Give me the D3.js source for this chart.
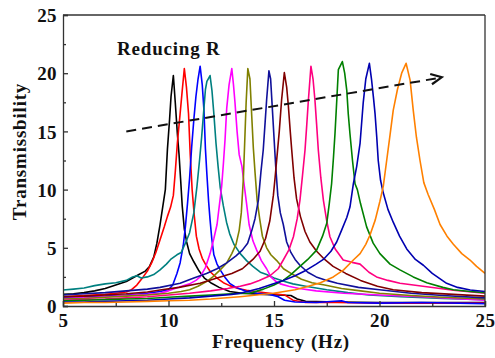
<!DOCTYPE html>
<html>
<head>
<meta charset="utf-8">
<script src="https://cdn.jsdelivr.net/npm/d3@7/dist/d3.min.js"></script>
<style>
  html, body { margin: 0; padding: 0; background: #fff; }
  svg { display: block; }
  .tick text { font-family: "Liberation Serif", "Times New Roman", serif; font-weight: bold; font-size: 19px; letter-spacing: 0.4px; fill: #111; }
</style>
</head>
<body>
<svg id="chart" width="495" height="358"></svg>
<script>
// Axis ticks
const xTicks = [5, 10, 15, 20, 25];
const yTicks = [0, 5, 10, 15, 20, 25];
const xMinor = [7.5, 12.5, 17.5, 22.5];
const yMinor = [2.5, 7.5, 12.5, 17.5, 22.5];

// Measured transmissibility curves, [frequency (Hz), transmissibility]
const curveBlack = [[5,1.0],[5.5,1.05],[6,1.15],[6.5,1.3],[7,1.5],[7.5,1.8],[8,2.1],[8.3,2.4],[8.6,2.7],[8.9,3.0],[9.1,3.4],[9.3,4.2],[9.45,5.4],[9.6,7.0],[9.75,8.8],[9.85,10.0],[9.95,13.5],[10.05,16.0],[10.12,18.0],[10.23,19.8],[10.32,17.5],[10.42,14.8],[10.5,13.0],[10.57,11.0],[10.65,8.6],[10.75,6.6],[10.86,5.5],[11.0,4.5],[11.2,3.8],[11.45,3.0],[11.7,2.4],[12.0,2.0],[12.4,1.6],[12.9,1.25],[13.5,1.1],[14.5,1.0],[15.2,0.95],[15.8,0.9],[16.1,0.6],[16.5,0.4],[18,0.35],[20,0.3],[22,0.3],[25,0.3]];
const curveRed = [[5,0.8],[6,0.9],[7,1.0],[7.5,1.1],[8,1.2],[8.25,1.4],[8.5,1.8],[8.8,2.5],[9.0,3.0],[9.2,3.7],[9.4,4.6],[9.6,5.7],[9.8,6.8],[9.95,7.7],[10.1,8.5],[10.23,9.5],[10.32,11.5],[10.42,14.0],[10.55,16.5],[10.65,18.5],[10.75,20.4],[10.85,18.8],[10.95,16.5],[11.03,13.0],[11.12,10.0],[11.22,7.8],[11.32,6.0],[11.45,4.9],[11.6,4.1],[11.75,3.6],[12.0,2.9],[12.3,2.4],[12.6,2.0],[12.9,1.75],[13.3,1.5],[13.7,1.35],[14.3,1.2],[15,1.05],[15.5,0.95],[15.9,0.5],[16.5,0.3],[18,0.3],[20,0.25],[25,0.25]];
const curveBlue = [[5,0.75],[6,0.8],[7,0.85],[8,0.95],[9,1.1],[9.6,1.25],[10.0,1.4],[10.2,1.8],[10.4,2.8],[10.55,3.7],[10.7,5.2],[10.8,6.8],[10.9,8.8],[11.0,11.0],[11.1,13.7],[11.2,16.0],[11.3,18.0],[11.4,19.5],[11.5,20.6],[11.6,19.0],[11.68,16.8],[11.75,13.5],[11.82,11.3],[11.9,9.0],[11.97,7.4],[12.05,5.8],[12.15,4.4],[12.3,3.6],[12.45,3.1],[12.7,2.4],[12.9,1.95],[13.2,1.6],[13.7,1.25],[14.2,1.1],[14.8,1.0],[15.2,0.8],[15.5,0.5],[16,0.35],[17,0.3],[18.2,0.45],[18.5,0.3],[20,0.25],[22,0.3],[25,0.2]];
const curveTeal = [[5,1.37],[5.5,1.45],[6,1.55],[6.5,1.75],[7,1.9],[7.5,2.0],[8,2.2],[8.3,2.5],[8.5,2.6],[8.7,2.4],[9.0,2.5],[9.3,2.7],[9.6,3.1],[9.9,3.6],[10.1,4.0],[10.4,4.4],[10.6,4.6],[10.85,5.6],[11.0,6.3],[11.2,8.0],[11.35,10.3],[11.47,12.5],[11.57,14.5],[11.68,17.0],[11.75,18.6],[11.82,19.3],[11.97,19.8],[12.06,18.5],[12.15,16.5],[12.25,14.0],[12.35,12.0],[12.45,10.2],[12.6,8.6],[12.75,7.2],[12.9,6.2],[13.1,5.3],[13.4,4.5],[13.7,3.9],[14.0,3.4],[14.35,2.9],[14.65,2.7],[15.0,2.4],[15.5,2.1],[15.9,1.9],[16.5,1.7],[17.5,1.4],[18.5,1.15],[19.5,0.95],[21,0.8],[23,0.65],[25,0.55]];
const curveMagenta = [[5,0.65],[6,0.7],[7,0.8],[8,0.9],[9,1.0],[9.6,1.1],[10.0,1.3],[10.55,1.65],[11.0,1.9],[11.3,2.2],[11.5,2.5],[11.75,3.3],[11.97,4.5],[12.15,5.8],[12.3,7.0],[12.42,8.8],[12.52,10.3],[12.6,12.2],[12.68,14.3],[12.76,17.0],[12.87,19.0],[13.0,20.4],[13.08,19.0],[13.15,17.5],[13.25,15.0],[13.35,13.0],[13.48,12.0],[13.58,10.5],[13.7,8.8],[13.82,7.0],[14.0,5.6],[14.18,4.8],[14.4,3.9],[14.65,3.2],[14.85,2.5],[15.1,2.1],[15.3,1.9],[15.7,1.7],[16.2,1.5],[17,1.3],[18.3,1.1],[20,0.95],[22,0.8],[25,0.5]];
const curveOlive = [[5,0.6],[6,0.65],[7,0.75],[8,0.85],[9,0.95],[10,1.1],[10.6,1.25],[11.0,1.4],[11.4,1.7],[11.8,2.1],[12.1,2.5],[12.45,3.1],[12.76,3.7],[13.0,4.5],[13.2,5.3],[13.35,6.5],[13.45,8.0],[13.55,11.0],[13.62,14.5],[13.68,17.5],[13.76,20.4],[13.86,19.5],[13.94,16.5],[14.02,13.6],[14.1,11.5],[14.2,9.1],[14.32,7.5],[14.45,6.0],[14.65,5.0],[14.85,4.4],[15.13,3.9],[15.45,3.2],[15.9,2.7],[16.3,2.3],[16.8,2.0],[17.4,1.8],[18.2,1.5],[19.1,1.3],[20,1.1],[21.5,0.9],[23,0.75],[25,0.6]];
const curveNavy = [[5,0.95],[6,1.05],[7,1.15],[8,1.3],[9,1.45],[9.6,1.6],[10.55,1.95],[11.2,2.4],[11.8,2.8],[12.3,3.2],[12.76,3.7],[13.2,4.3],[13.5,4.8],[13.75,5.4],[13.95,6.5],[14.1,7.5],[14.26,9.1],[14.38,11.5],[14.49,13.4],[14.58,15.8],[14.65,17.7],[14.76,20.2],[14.84,19.5],[14.92,17.0],[15.0,14.5],[15.08,12.0],[15.18,9.5],[15.3,8.0],[15.44,7.0],[15.6,5.5],[15.8,4.6],[16.0,4.0],[16.23,3.5],[16.6,2.9],[17.0,2.5],[17.5,2.2],[18.0,1.95],[19.0,1.6],[20,1.4],[21.5,1.1],[23,0.9],[25,0.7]];
const curveMaroon = [[5,0.8],[6,0.85],[7,0.95],[8,1.05],[9,1.2],[9.6,1.37],[10.5,1.6],[11.5,1.95],[12.3,2.4],[13.0,2.8],[13.5,3.2],[14.0,4.0],[14.34,4.7],[14.6,5.8],[14.8,7.3],[14.97,9.5],[15.05,11.0],[15.15,13.0],[15.25,15.0],[15.36,17.7],[15.49,20.05],[15.6,18.8],[15.68,17.2],[15.77,15.0],[15.84,13.4],[15.95,11.0],[16.07,9.2],[16.25,7.7],[16.47,6.4],[16.7,5.5],[17.02,4.7],[17.4,4.0],[17.8,3.4],[18.4,2.8],[19.1,2.2],[19.9,1.7],[20.65,1.4],[22,1.15],[23.5,1.0],[25,0.85]];
const curvePink = [[5,0.5],[6,0.55],[7,0.6],[8,0.7],[9,0.8],[10,0.95],[11,1.1],[12,1.3],[12.8,1.5],[13.4,1.7],[13.86,1.9],[14.3,2.2],[14.81,2.6],[15.2,3.2],[15.44,3.95],[15.7,4.8],[15.92,5.95],[16.1,7.5],[16.23,9.1],[16.35,11.2],[16.47,13.4],[16.55,15.5],[16.63,17.7],[16.75,20.6],[16.85,19.5],[16.94,17.7],[17.02,15.6],[17.1,13.4],[17.22,11.0],[17.34,9.1],[17.5,7.3],[17.65,5.95],[17.9,4.9],[18.28,3.95],[18.7,3.75],[19.08,3.6],[19.5,2.9],[19.86,2.5],[20.4,2.2],[20.97,1.95],[22.24,1.66],[23.5,1.35],[25,1.1]];
const curveGreen = [[5,0.45],[6,0.5],[7,0.55],[8,0.6],[9,0.65],[10,0.75],[11,0.85],[12,0.95],[13,1.05],[13.86,1.1],[14.5,1.45],[15.0,1.8],[15.44,2.2],[15.8,2.7],[16.23,3.4],[16.6,4.0],[17.02,4.8],[17.3,6.0],[17.5,7.1],[17.62,8.8],[17.73,10.5],[17.82,12.8],[17.89,14.8],[17.97,17.5],[18.05,20.3],[18.24,21.0],[18.35,20.0],[18.45,18.5],[18.52,16.5],[18.6,14.8],[18.72,12.5],[18.84,10.5],[18.95,10.0],[19.1,8.8],[19.39,6.8],[19.7,5.4],[20.02,4.5],[20.5,3.6],[20.97,3.1],[21.6,2.5],[22.24,2.0],[23.0,1.6],[23.5,1.4],[24.3,1.25],[25,1.15]];
const curveBlue2 = [[5,0.35],[6,0.35],[7,0.4],[8,0.45],[9,0.5],[10,0.6],[11,0.7],[12,0.85],[13,1.0],[13.4,1.1],[14.3,1.5],[15.44,2.2],[16.0,2.6],[16.55,3.1],[17.0,3.6],[17.34,4.0],[17.7,4.7],[17.97,5.5],[18.2,6.5],[18.45,7.6],[18.6,8.5],[18.76,10.5],[18.92,12.0],[19.08,14.0],[19.23,17.5],[19.35,19.5],[19.52,20.85],[19.62,19.5],[19.72,17.8],[19.79,16.5],[19.87,14.5],[19.94,12.5],[20.05,10.8],[20.18,9.7],[20.4,8.3],[20.65,7.2],[20.95,6.0],[21.29,4.9],[21.7,4.0],[22.08,3.5],[22.5,2.8],[23.18,1.95],[23.7,1.6],[24.3,1.37],[25,1.25]];
const curveOrange = [[5,0.25],[6,0.3],[7,0.3],[8,0.35],[9,0.4],[10,0.45],[11,0.5],[12,0.6],[13.39,0.8],[14.97,1.09],[16.0,1.4],[16.55,1.66],[17.2,2.0],[17.81,2.5],[18.3,3.1],[18.76,3.95],[19.08,4.5],[19.35,5.3],[19.55,6.1],[19.8,7.4],[20.02,9.0],[20.18,10.3],[20.34,12.5],[20.5,14.7],[20.65,16.8],[20.85,18.6],[21.05,20.0],[21.26,20.85],[21.45,19.4],[21.6,16.8],[21.75,14.5],[21.92,12.5],[22.1,10.6],[22.3,9.6],[22.6,8.3],[22.87,7.0],[23.2,6.0],[23.5,5.3],[23.9,4.5],[24.29,3.95],[24.6,3.4],[25,2.8]];

const seriesData = [curveBlack, curveRed, curveBlue, curveTeal, curveMagenta, curveOlive,
                    curveNavy, curveMaroon, curvePink, curveGreen, curveBlue2, curveOrange];
const seriesColors = ["#000000", "#ff0000", "#0000ff", "#008080", "#ff00ff", "#808000",
                      "#10109a", "#800000", "#ff0080", "#008000", "#0000b0", "#ff8000"];

// Trend arrow endpoints in data units
const arrowStart = [8.0, 15.0];
const arrowEnd = [22.95, 19.65];
const noteText = "Reducing R";
const notePos = [7.56, 21.55];

const W = 495, H = 358;
const margin = { top: 15, right: 10, bottom: 52, left: 63 };
const svg = d3.select("#chart");

const x = d3.scaleLinear().domain([5, 25]).range([margin.left, W - margin.right]);
const y = d3.scaleLinear().domain([0, 25]).range([H - margin.bottom, margin.top]);

// Curves, clipped to the plotting area
svg.append("defs").append("clipPath").attr("id", "plotClip")
  .append("rect")
  .attr("x", x(5)).attr("y", y(25))
  .attr("width", x(25) - x(5)).attr("height", y(0) - y(25));

const line = d3.line().x(d => x(d[0])).y(d => y(d[1]));
svg.append("g").attr("clip-path", "url(#plotClip)")
  .selectAll("path")
  .data(seriesData)
  .join("path")
  .attr("d", line)
  .attr("fill", "none")
  .attr("stroke", (d, i) => seriesColors[i])
  .attr("stroke-width", 1.6)
  .attr("stroke-linejoin", "round");

// Axes with inward ticks
const axisColor = "#333";
const gx = svg.append("g").attr("transform", `translate(0,${y(0)})`)
  .call(d3.axisBottom(x).tickValues(xTicks).tickSize(-5).tickPadding(8).tickFormat(d3.format("d")));
const gy = svg.append("g").attr("transform", `translate(${x(5)},0)`)
  .call(d3.axisLeft(y).tickValues(yTicks).tickSize(-5).tickPadding(6).tickFormat(d3.format("d")));
svg.append("g").attr("transform", `translate(0,${y(0)})`)
  .call(d3.axisBottom(x).tickValues(xMinor).tickSize(-3).tickFormat(""))
  .call(g => g.select(".domain").remove());
svg.append("g").attr("transform", `translate(${x(5)},0)`)
  .call(d3.axisLeft(y).tickValues(yMinor).tickSize(-3).tickFormat(""))
  .call(g => g.select(".domain").remove());
svg.selectAll(".domain, .tick line").attr("stroke", axisColor).attr("stroke-width", 1.3);
gx.selectAll(".tick text").attr("dy", "0.71em");
gy.selectAll(".tick text").attr("dy", "0.35em");

// Top and right frame
svg.append("line").attr("x1", x(5)).attr("x2", x(25)).attr("y1", y(25)).attr("y2", y(25))
  .attr("stroke", axisColor).attr("stroke-width", 1.3);
svg.append("line").attr("x1", x(25)).attr("x2", x(25)).attr("y1", y(25)).attr("y2", y(0))
  .attr("stroke", axisColor).attr("stroke-width", 1.3);

// Axis titles
const titleFont = "'Liberation Serif', 'Times New Roman', serif";
svg.append("text")
  .attr("x", (x(5) + x(25)) / 2 + 7).attr("y", H - 10)
  .attr("text-anchor", "middle")
  .style("font-family", titleFont).style("font-weight", "bold").style("font-size", "19px")
  .style("letter-spacing", "0.8px")
  .attr("fill", "#111")
  .text("Frequency (Hz)");
svg.append("text")
  .attr("transform", `translate(26,${(y(0) + y(25)) / 2 - 9}) rotate(-90)`)
  .attr("text-anchor", "middle")
  .style("font-family", titleFont).style("font-weight", "bold").style("font-size", "19px")
  .style("letter-spacing", "0.8px")
  .attr("fill", "#111")
  .text("Transmissbility");

// Trend annotation: dashed arrow with open head
const ax0 = x(arrowStart[0]), ay0 = y(arrowStart[1]);
const ax1 = x(arrowEnd[0]), ay1 = y(arrowEnd[1]);
svg.append("line")
  .attr("x1", ax0).attr("y1", ay0).attr("x2", ax1 - 2).attr("y2", ay1 + 0.5)
  .attr("stroke", "#111").attr("stroke-width", 2)
  .attr("stroke-dasharray", "10,6");
const ang = Math.atan2(ay1 - ay0, ax1 - ax0);
const headLen = 12, headSpread = 0.45;
const p1 = [ax1 - headLen * Math.cos(ang - headSpread), ay1 - headLen * Math.sin(ang - headSpread)];
const p2 = [ax1 - headLen * Math.cos(ang + headSpread), ay1 - headLen * Math.sin(ang + headSpread)];
svg.append("path")
  .attr("d", `M${p1[0]},${p1[1]}L${ax1},${ay1}L${p2[0]},${p2[1]}`)
  .attr("fill", "none").attr("stroke", "#111").attr("stroke-width", 2.2)
  .attr("stroke-linejoin", "miter");

svg.append("text")
  .attr("x", x(notePos[0])).attr("y", y(notePos[1]))
  .style("font-family", titleFont).style("font-weight", "bold").style("font-size", "19px")
  .style("letter-spacing", "0.8px")
  .attr("fill", "#111")
  .text(noteText);
</script>
</body>
</html>
